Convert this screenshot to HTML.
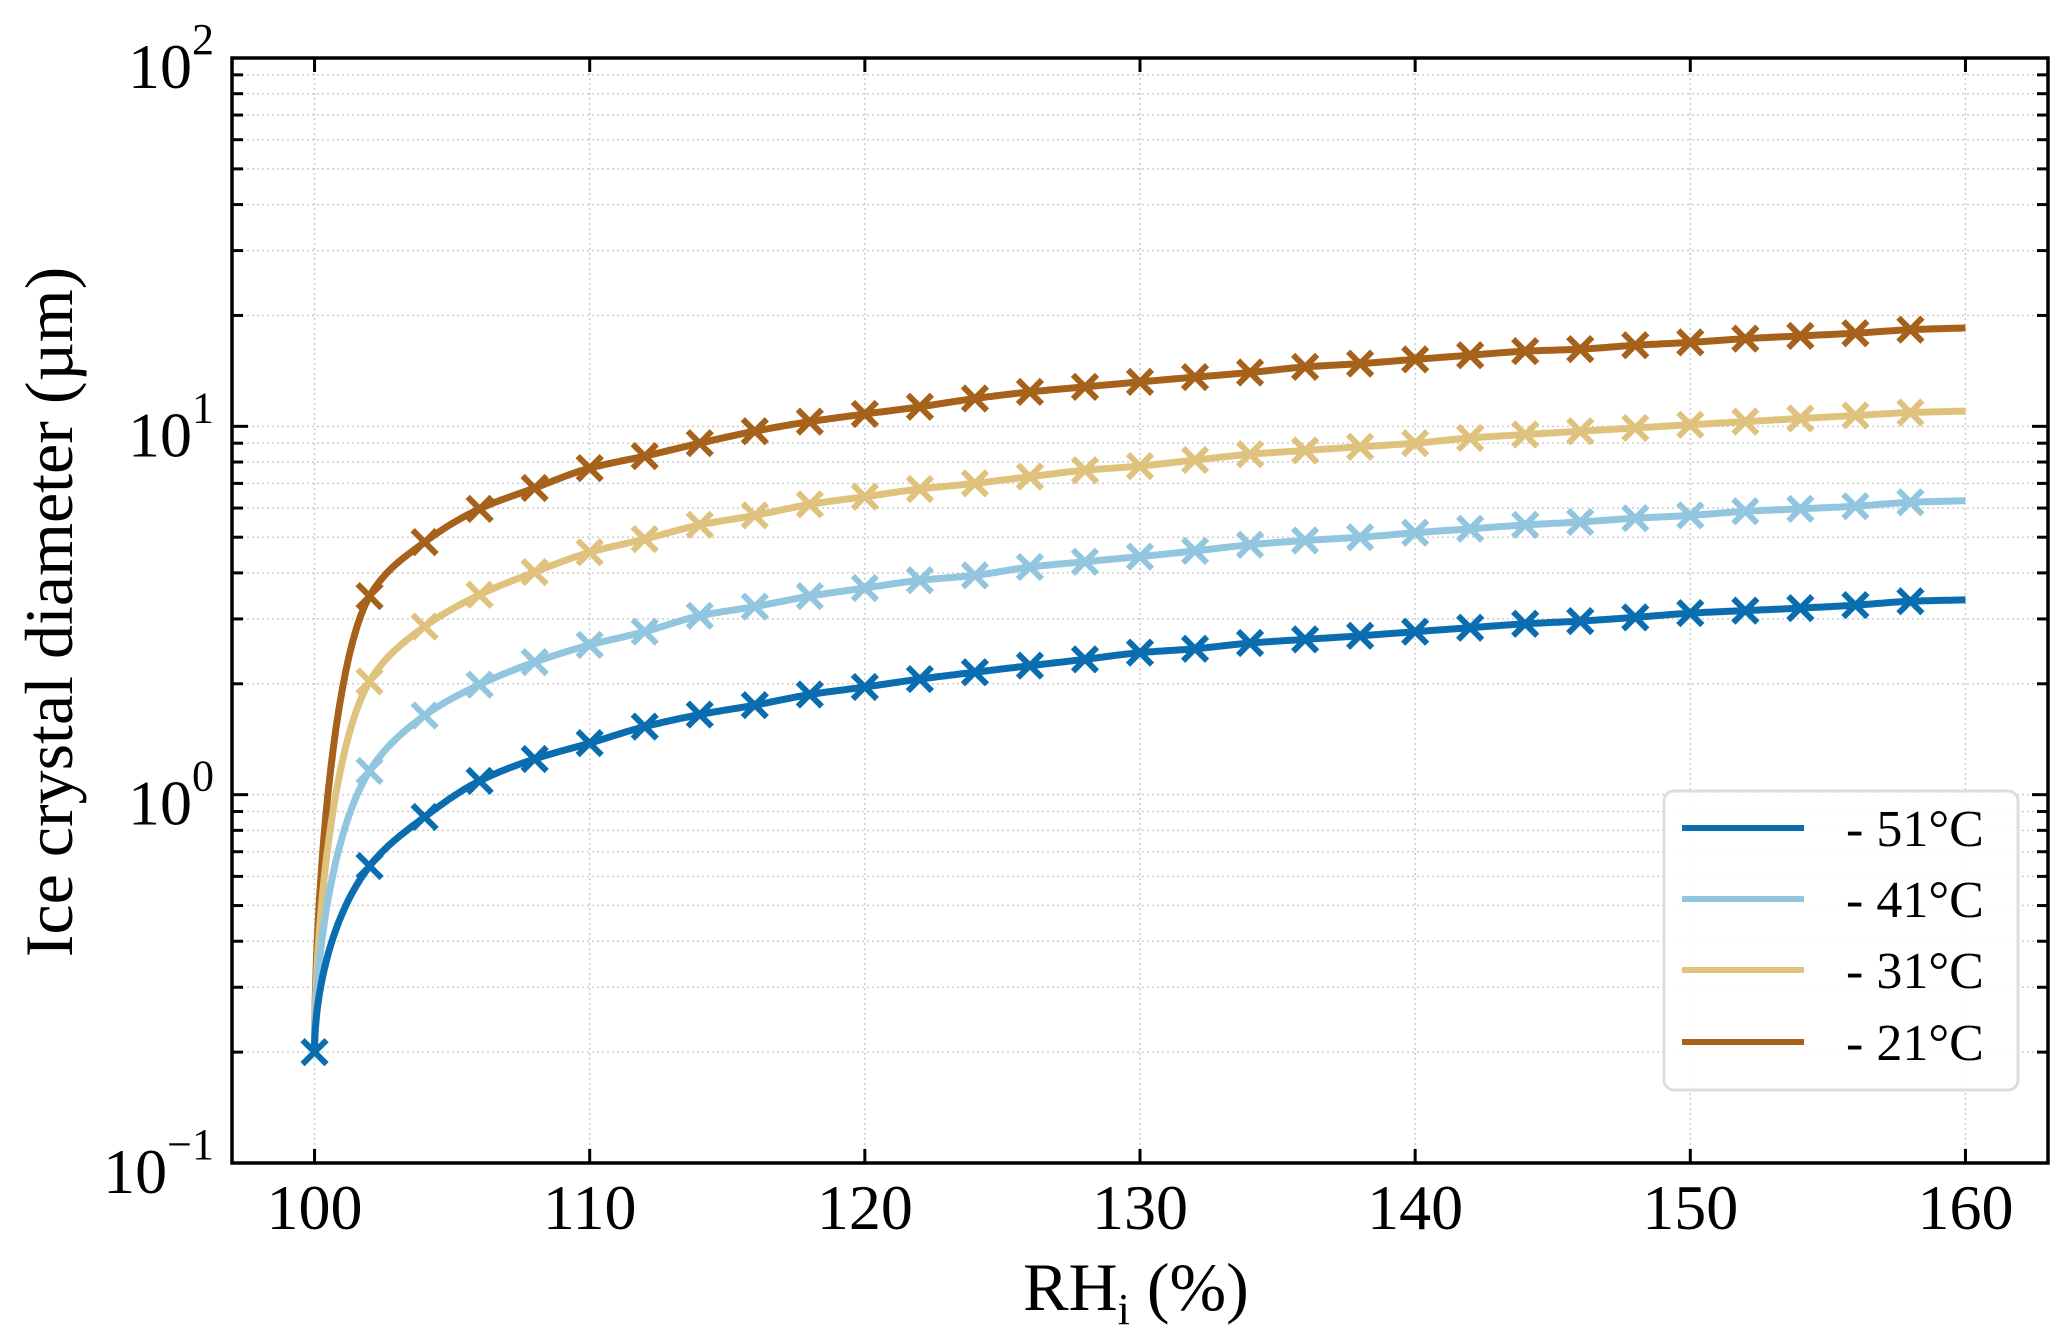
<!DOCTYPE html>
<html><head><meta charset="utf-8"><style>
html,body{margin:0;padding:0;background:#fff;}
svg{display:block;}
svg text{font-family:"Liberation Serif","Times New Roman",Times,serif;}
</style></head><body>
<svg id="chart" width="2067" height="1340" viewBox="0 0 2067 1340"></svg>
<script>
const rhValues = [100,102,104,106,108,110,112,114,116,118,120,122,124,126,128,130,132,134,136,138,140,142,144,146,148,150,152,154,156,158];
const seriesLabels = ["- 51°C","- 41°C","- 31°C","- 21°C"];
const seriesColors = ["#0a6db0","#92c5de","#dfc27d","#a6611a"];
const d51 = [0.20,0.64,0.87,1.09,1.25,1.38,1.53,1.65,1.75,1.87,1.96,2.06,2.15,2.24,2.33,2.43,2.49,2.58,2.64,2.70,2.77,2.84,2.91,2.96,3.03,3.11,3.16,3.21,3.27,3.35];
const d41 = [0.20,1.16,1.64,1.99,2.29,2.55,2.77,3.06,3.24,3.46,3.64,3.82,3.94,4.15,4.29,4.43,4.59,4.77,4.90,5.00,5.14,5.27,5.40,5.50,5.63,5.73,5.88,5.97,6.07,6.22];
const d31 = [0.20,2.03,2.86,3.49,4.02,4.55,4.94,5.40,5.73,6.14,6.44,6.76,7.0,7.3,7.6,7.8,8.1,8.4,8.6,8.8,9.0,9.3,9.5,9.7,9.9,10.1,10.3,10.5,10.7,10.9];
const d21 = [0.20,3.46,4.85,5.97,6.8,7.7,8.3,9.0,9.7,10.3,10.8,11.3,11.9,12.4,12.8,13.2,13.6,14.0,14.5,14.8,15.2,15.6,16.0,16.2,16.6,16.9,17.3,17.6,17.9,18.3];
const lineEnd = [3.38,6.28,11.0,18.5];
const xTicks = [100,110,120,130,140,150,160];
const yTickExp = [-1,0,1,2];

const NS="http://www.w3.org/2000/svg";
const svg=document.getElementById('chart');
const L=232,R=2048,T=58,B=1163;
const xMin=97,xMax=163,yMin=-1,yMax=2;
const X=v=>L+(v-xMin)/(xMax-xMin)*(R-L);
const Y=v=>B-(Math.log10(v)-yMin)/(yMax-yMin)*(B-T);
function el(tag,attrs,parent){const e=document.createElementNS(NS,tag);for(const k in attrs)e.setAttribute(k,attrs[k]);(parent||svg).appendChild(e);return e;}

// grid
const grid=el('g',{});


for(const t of xTicks){el('line',{x1:X(t),x2:X(t),y1:T,y2:B,stroke:'#ccc','stroke-width':1.5,'stroke-dasharray':'2,3'},grid);}
for(let e=yMin;e<yMax;e++){for(let m=1;m<10;m++){const v=m*Math.pow(10,e);if(m===1&&e===yMin)continue;el('line',{x1:L,x2:R,y1:Y(v),y2:Y(v),stroke:'#ccc','stroke-width':1.5,'stroke-dasharray':'2,3'},grid);}}

// monotone cubic interpolation in (sqrt(x-100), log y) space
function curvePts(ys,end){
  const xs=rhValues.concat([160]);const yy=ys.concat([end]);
  const u=xs.map(x=>Math.sqrt(x-100)),l=yy.map(y=>Math.log10(y));
  const n=u.length,h=[],d=[],m=new Array(n);
  for(let i=0;i<n-1;i++){h[i]=u[i+1]-u[i];d[i]=(l[i+1]-l[i])/h[i];}
  m[0]=d[0];m[n-1]=d[n-2];
  for(let i=1;i<n-1;i++){
    if(d[i-1]*d[i]<=0)m[i]=0;
    else{const w1=2*h[i]+h[i-1],w2=h[i]+2*h[i-1];m[i]=(w1+w2)/(w1/d[i-1]+w2/d[i]);}
  }
  const pts=[];
  for(let i=0;i<n-1;i++){
    for(let s=0;s<24;s++){const t=s/24,t2=t*t,t3=t2*t;
      const h00=2*t3-3*t2+1,h10=t3-2*t2+t,h01=-2*t3+3*t2,h11=t3-t2;
      const uu=u[i]+t*h[i];
      const ll=h00*l[i]+h10*h[i]*m[i]+h01*l[i+1]+h11*h[i]*m[i+1];
      pts.push([X(100+uu*uu),Y(Math.pow(10,ll))]);}
  }
  pts.push([X(160),Y(end)]);
  return pts;
}
const data=[d51,d41,d31,d21];
for(let si=3;si>=0;si--){
  const g=el('g',{});
  
  
  const pts=curvePts(data[si],lineEnd[si]);
  el('polyline',{points:pts.map(p=>p[0].toFixed(1)+','+p[1].toFixed(1)).join(' '),fill:'none',stroke:seriesColors[si],'stroke-width':7,'stroke-linejoin':'round'},g);
  rhValues.forEach((x,i)=>{
    if(si!==0&&i===0)return;
    const cx=X(x),cy=Y(data[si][i]),s=12;
    const mk=el('path',{d:`M${cx-s},${cy-s}L${cx+s},${cy+s}M${cx-s},${cy+s}L${cx+s},${cy-s}`,stroke:seriesColors[si],'stroke-width':6,fill:'none'},g);
    
    
  });
}

// axes frame & ticks
const ax=el('g',{});


el('rect',{x:L,y:T,width:R-L,height:B-T,fill:'none',stroke:'#000','stroke-width':3.5},ax);
for(const t of xTicks){
  el('line',{x1:X(t),x2:X(t),y1:B,y2:B-14,stroke:'#000','stroke-width':3},ax);
  el('line',{x1:X(t),x2:X(t),y1:T,y2:T+14,stroke:'#000','stroke-width':3},ax);
  const tx=el('text',{x:X(t),y:B+66,'font-size':64,'text-anchor':'middle'},ax);tx.textContent=t;
  
  
}
for(let e=yMin;e<yMax;e++){for(let m=2;m<10;m++){const y=Y(m*Math.pow(10,e));
  el('line',{x1:L,x2:L+11,y1:y,y2:y,stroke:'#000','stroke-width':3},ax);
  el('line',{x1:R,x2:R-11,y1:y,y2:y,stroke:'#000','stroke-width':3},ax);}}
for(const e of yTickExp){const y=Y(Math.pow(10,e));
  el('line',{x1:L,x2:L+16,y1:y,y2:y,stroke:'#000','stroke-width':3},ax);
  el('line',{x1:R,x2:R-16,y1:y,y2:y,stroke:'#000','stroke-width':3},ax);
  const tx=el('text',{x:L-18,y:y+30,'font-size':64,'text-anchor':'end'},ax);
  
  
  const a=el('tspan',{},tx);a.textContent='10';
  const b=el('tspan',{dy:-34,'font-size':44},tx);b.textContent=(e<0?'\u2212':'')+Math.abs(e);
}
const xt=el('text',{x:1136,y:1310,'font-size':68,'text-anchor':'middle'});


xt.innerHTML='RH<tspan font-size="44" dy="14">i</tspan><tspan dy="-14"> (%)</tspan>';
const yt=el('text',{x:0,y:0,'font-size':68,'text-anchor':'middle',transform:'translate(72,612) rotate(-90)'});


yt.textContent='Ice crystal diameter (\u00b5m)';

// legend
const lg=el('g',{});


el('rect',{x:1664,y:791,width:354,height:299,rx:10,fill:'#fff','fill-opacity':0.9,stroke:'#ddd','stroke-width':3},lg);
const lys=[828,899,970,1042];
seriesLabels.forEach((lab,i)=>{
  const e=el('g',{},lg);
  
  
  el('line',{x1:1682,x2:1804,y1:lys[i],y2:lys[i],stroke:seriesColors[i],'stroke-width':6},e);
  const t=el('text',{x:1846,y:lys[i]+18,'font-size':52},e);t.textContent=lab;
});
</script>
</body></html>
